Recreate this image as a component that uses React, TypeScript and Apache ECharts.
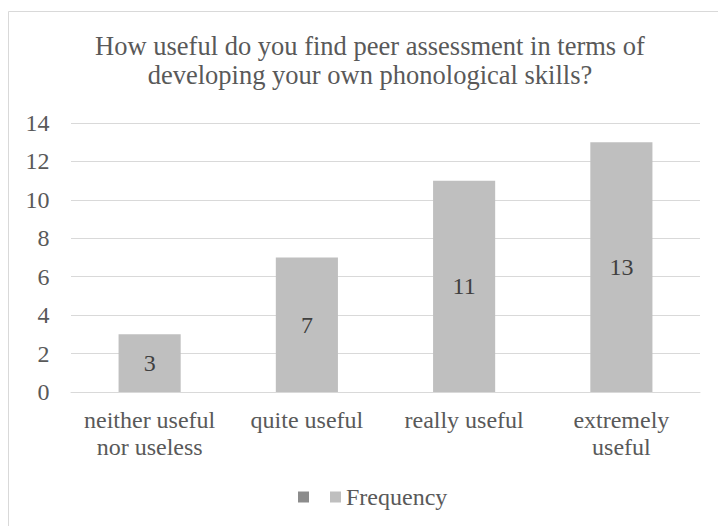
import React, { useEffect, useRef } from "react";
import * as echarts from "echarts";

const titleText = "How useful do you find peer assessment in terms of\ndeveloping your own phonological skills?";
const categories = ["neither useful\nnor useless", "quite useful", "really useful", "extremely\nuseful"];
const frequency = [3, 7, 11, 13];
const seriesName = "Frequency";

const FONT = "Liberation Serif";
const TXT = "#595959";

export default function App() {
  const ref = useRef<HTMLDivElement>(null);
  useEffect(() => {
    document.body.style.margin = "0";
    const chart = echarts.init(ref.current!, undefined, { renderer: "svg" });
    chart.setOption({
      animation: false,
      textStyle: { fontFamily: FONT },
      graphic: [
        {
          type: "rect",
          shape: { x: 8.5, y: 11.5, width: 800, height: 600 },
          style: { fill: "none", stroke: "#d9d9d9", lineWidth: 1 },
          silent: true,
        },
      ],
      title: {
        text: titleText,
        left: 370,
        textAlign: "center",
        top: 32,
        padding: 0,
        textStyle: { fontFamily: FONT, fontSize: 26.5, fontWeight: "normal", color: TXT, lineHeight: 28.5 },
      },
      legend: {
        top: 485,
        left: 298,
        padding: 0,
        itemWidth: 11,
        itemHeight: 11,
        itemGap: 10,
        textStyle: { fontFamily: FONT, fontSize: 24, color: TXT },
        data: [
          { name: " ", icon: "rect" },
          { name: seriesName, icon: "rect" },
        ],
      },
      grid: { left: 71, right: 18, top: 123, bottom: 134, containLabel: false },
      xAxis: {
        type: "category",
        data: categories,
        axisLine: { lineStyle: { color: "#d9d9d9", width: 1 } },
        axisTick: { show: false },
        axisLabel: { fontFamily: FONT, fontSize: 24, color: TXT, lineHeight: 26.5, margin: 15, interval: 0 },
      },
      yAxis: {
        type: "value",
        min: 0,
        max: 14,
        interval: 2,
        axisLine: { show: false },
        axisTick: { show: false },
        splitLine: { lineStyle: { color: "#d9d9d9", width: 1 } },
        axisLabel: { fontFamily: FONT, fontSize: 24, color: TXT, margin: 21.5 },
      },
      series: [
        {
          name: " ",
          type: "line",
          data: [],
          itemStyle: { color: "#8c8c8c" },
        },
        {
          name: seriesName,
          type: "bar",
          data: frequency,
          barWidth: "39.5%",
          itemStyle: { color: "#bfbfbf" },
          label: { show: true, position: "inside", fontFamily: FONT, fontSize: 24, color: "#404040" },
        },
      ],
    });
    return () => chart.dispose();
  }, []);
  return <div ref={ref} style={{ width: 718, height: 526 }} />;
}
